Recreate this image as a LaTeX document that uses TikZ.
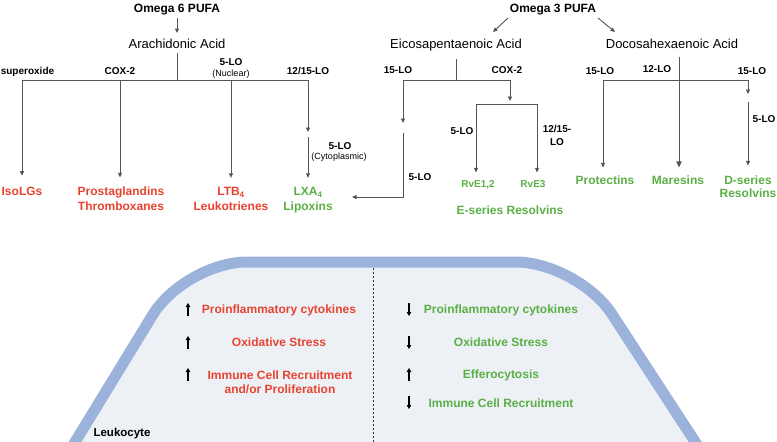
\documentclass[tikz,border=0pt]{standalone}
\usepackage{fontspec}
\setmainfont{Liberation Sans}
\usetikzlibrary{arrows.meta}
\definecolor{redt}{HTML}{E8432E}
\definecolor{greent}{HTML}{5AAF45}
\definecolor{cellfill}{HTML}{EDF1F6}
\definecolor{cellline}{HTML}{9BB3DB}
\definecolor{lineg}{HTML}{555555}
\begin{document}
\begin{tikzpicture}[x=1pt,y=-1pt,
  conn/.style={draw=lineg, line width=0.9pt},
  arr/.style={conn,-{Triangle[length=4.5pt,width=4pt]}},
  bigarr/.style={conn,-{Triangle[length=6pt,width=5.5pt]}},
  updown/.style={draw=black, line width=1.2pt,-{Triangle[length=4pt,width=4.5pt]}},
  txt/.style={inner sep=0pt, anchor=base, align=center},
  head/.style={txt, font=\fontsize{12}{14}\selectfont\bfseries},
  acid/.style={txt, font=\fontsize{13}{15}\selectfont},
  lbl/.style={txt, font=\fontsize{10}{13}\selectfont\bfseries},
  sublbl/.style={txt, font=\fontsize{9}{10}\selectfont},
  prored/.style={txt, font=\fontsize{12}{15}\selectfont\bfseries, text=redt},
  progreen/.style={txt, font=\fontsize{12}{13}\selectfont\bfseries, text=greent},
  smallgreen/.style={txt, font=\fontsize{10}{12}\selectfont\bfseries, text=greent}
]
\useasboundingbox (0,0) rectangle (777,442);
\clip (0,0) rectangle (777,442);

% ---------- cell ----------
\draw[fill=cellfill, draw=cellline, line width=11pt, rounded corners=62pt]
  (64,460) -- (185,262) -- (578,262) -- (707,460);
\coordinate (dtop) at (373,268);
\coordinate (dbot) at (373,442);
\draw[black!80, line width=0.9pt, dash pattern=on 2pt off 2pt] (dtop) -- (dbot);

% ---------- omega 6 ----------
\node[head] (o6) at (177,12.3) {Omega 6 PUFA};
\node[acid] (aa) at (177,48.5) {Arachidonic Acid};
\coordinate (o6s) at (177,18);
\coordinate (aan) at (177,33);
\draw[arr] (o6s) -- (aan);
\coordinate (aaj) at (177,80);
\coordinate (aab) at (177,53);
\draw[conn] (aab) -- (aaj);
\coordinate (j1) at (22,80);
\coordinate (j2) at (120,80);
\coordinate (j3) at (231,80);
\coordinate (j4) at (308,80);
\draw[conn] (j1) -- (j4);

\node[lbl] (lsup) at (27.5,74.6) {superoxide};
\node[lbl] (lcox) at (120,74.6) {COX-2};
\node[lbl] (l5lo) at (231,65.6) {5-LO};
\node[sublbl] (lnuc) at (231,76.2) {(Nuclear)};
\node[lbl] (l1215) at (308,74.6) {12/15-LO};

\node[prored] (iso) at (22,195.3) {IsoLGs};
\node[prored] (pg) at (121,210.3) {Prostaglandins\\Thromboxanes};
\node[prored] (ltb) at (231,210.3) {LTB\textsubscript{4}\\Leukotrienes};
\node[txt, font=\fontsize{12}{15}\selectfont\bfseries, text=greent] (lx) at (308,210.3) {LXA\textsubscript{4}\\Lipoxins};

\draw[arr, shorten >=11pt] (j1) -- (iso.north);
\draw[arr, shorten >=9pt] (j2) -- (j2 |- pg.north);
\draw[arr, shorten >=9pt] (j3) -- (ltb.north);
\coordinate (c1) at (308,132);
\coordinate (c2) at (308,137);
\draw[arr] (j4) -- (c1);
\draw[arr, shorten >=9pt] (c2) -- (lx.north);
\node[lbl] (l5c) at (340,149.6) {5-LO};
\node[sublbl] (lcyt) at (339,159.2) {(Cytoplasmic)};

% ---------- omega 3 ----------
\node[head] (o3) at (553,12.3) {Omega 3 PUFA};
\node[acid] (epa) at (456,48.5) {Eicosapentaenoic Acid};
\node[acid] (dha) at (672,48.5) {Docosahexaenoic Acid};
\coordinate (o3l) at (508,18);
\coordinate (epat) at (493,32);
\coordinate (o3r) at (598,18);
\coordinate (dhat) at (615,32);
\draw[arr] (o3l) -- (epat);
\draw[arr] (o3r) -- (dhat);

% EPA
\coordinate (epab) at (456,59);
\coordinate (ej) at (456,80);
\draw[conn] (epab) -- (ej);
\coordinate (e1) at (403,80);
\coordinate (e2) at (510,80);
\draw[conn] (e1) -- (e2);
\coordinate (e1a) at (403,123);
\coordinate (e1b) at (403,133);
\coordinate (lxin) at (352,197);
\draw[arr] (e1) -- (e1a);
\draw[arr] (e1b) |- (lxin);
\node[lbl] (l15e) at (398,73.6) {15-LO};
\node[lbl] (lcoxe) at (507,73.6) {COX-2};
\node[lbl] (l5e) at (420,180.6) {5-LO};

\coordinate (e2a) at (510,101);
\draw[arr] (e2) -- (e2a);
\coordinate (r1) at (476,104);
\coordinate (r2) at (537,104);
\draw[conn] (r1) -- (r2);
\node[smallgreen] (rve12) at (478,187.6) {RvE1,2};
\node[smallgreen] (rve3) at (533,187.6) {RvE3};
\draw[arr, shorten >=8pt] (r1) -- (r1 |- rve12.north);
\draw[arr, shorten >=8pt] (r2) -- (r2 |- rve3.north);
\node[lbl] (l5r) at (462,134.6) {5-LO};
\node[lbl] (l1215r) at (557,145.6) {12/15-\\LO};
\node[progreen] (eser) at (510,214.3) {E-series Resolvins};

% DHA
\coordinate (dhab) at (679,57);
\coordinate (dj) at (679,80);
\coordinate (d1) at (603,80);
\coordinate (d2) at (748,80);
\draw[conn] (d1) -- (d2);
\node[progreen] (prot) at (605,184.3) {Protectins};
\node[progreen] (mar) at (678,184.3) {Maresins};
\node[progreen] (dser) at (748,197.3) {D-series\\Resolvins};
\draw[bigarr, shorten >=8pt] (dhab) -- (dhab |- mar.north);
\draw[arr, shorten >=8pt] (d1) -- (d1 |- prot.north);
\coordinate (d2a) at (748,94);
\coordinate (d2b) at (748,102);
\draw[arr] (d2) -- (d2a);
\draw[arr, shorten >=10pt] (d2b) -- (dser.north);
\node[lbl] (l15d) at (600,74.6) {15-LO};
\node[lbl] (l12d) at (657,72.6) {12-LO};
\node[lbl] (l15d2) at (752,74.6) {15-LO};
\node[lbl] (l5d) at (764,122.6) {5-LO};

% ---------- cell contents ----------
\node[prored] (rp1) at (279,313.3) {Proinflammatory cytokines};
\node[prored] (rp2) at (279,346.3) {Oxidative Stress};
\node[txt, font=\fontsize{12}{14}\selectfont\bfseries, text=redt] (rp3) at (280,393.3) {Immune Cell Recruitment\\and/or Proliferation};

\node[progreen] (gp1) at (501,313.3) {Proinflammatory cytokines};
\node[progreen] (gp2) at (501,346.3) {Oxidative Stress};
\node[progreen] (gp3) at (501,378.3) {Efferocytosis};
\node[progreen] (gp4) at (501,407.3) {Immune Cell Recruitment};

\node[txt, font=\fontsize{11.5}{13}\selectfont\bfseries] (leuk) at (122,436) {Leukocyte};

\coordinate (u1) at (188,316);
\coordinate (u2) at (188,349);
\coordinate (u3) at (188,381);
\draw[updown] (u1) -- ++(0,-13);
\draw[updown] (u2) -- ++(0,-13);
\draw[updown] (u3) -- ++(0,-13);
\coordinate (d1g) at (409,303);
\coordinate (d2g) at (409,336);
\coordinate (d3g) at (409,381);
\coordinate (d4g) at (409,396);
\draw[updown] (d1g) -- ++(0,13);
\draw[updown] (d2g) -- ++(0,13);
\draw[updown] (d3g) -- ++(0,-13);
\draw[updown] (d4g) -- ++(0,13);
\end{tikzpicture}
\end{document}
